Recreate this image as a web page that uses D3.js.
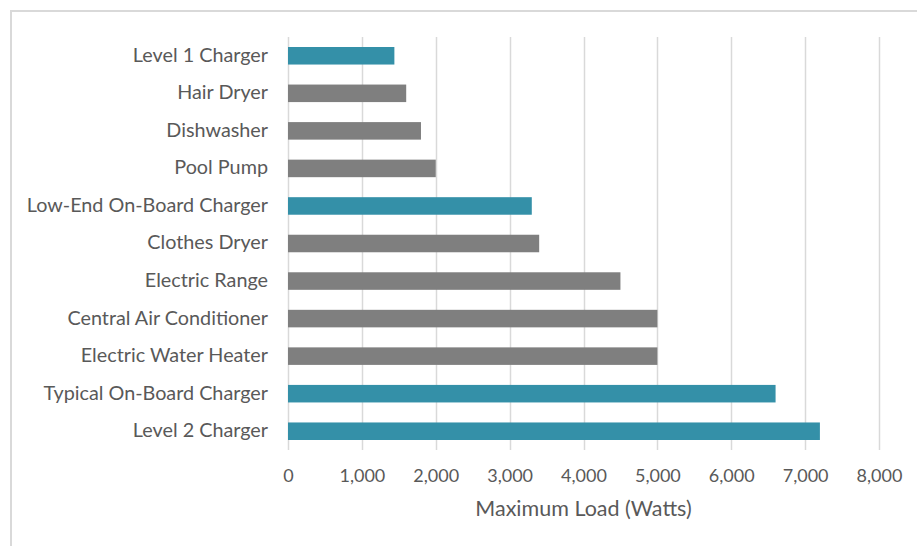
<!DOCTYPE html>
<html>
<head>
<meta charset="utf-8">
<script src="https://cdn.jsdelivr.net/npm/d3@7"></script>
<style>
  html, body { margin: 0; padding: 0; background: #fff; }
  svg { display: block; }
  text { font-family: Lato, "Open Sans", sans-serif; fill: #595959; }
</style>
</head>
<body>
<svg id="chart" width="917" height="546"></svg>
<script>
const categories = [
  "Level 1 Charger", "Hair Dryer", "Dishwasher", "Pool Pump",
  "Low-End On-Board Charger", "Clothes Dryer", "Electric Range",
  "Central Air Conditioner", "Electric Water Heater",
  "Typical On-Board Charger", "Level 2 Charger"
];
const values = [1440, 1600, 1800, 2000, 3300, 3400, 4500, 5000, 5000, 6600, 7200];
const isCharger = [true, false, false, false, true, false, false, false, false, true, true];
const xTicks = [0, 1000, 2000, 3000, 4000, 5000, 6000, 7000, 8000];
const xTitle = "Maximum Load (Watts)";

const svg = d3.select("#chart");
const W = 917, H = 546;
const m = { left: 288, right: 38, top: 37, bottom: 96 };

// frame
svg.append("path")
  .attr("d", `M11,${H} L11,11 L${W},11`)
  .attr("fill", "none").attr("stroke", "#d9d9d9").attr("stroke-width", 2);

const x = d3.scaleLinear().domain([0, 8000]).range([m.left, W - m.right]);
const y = d3.scaleBand().domain(categories).range([m.top, H - m.bottom]).paddingInner(0.533).paddingOuter(0.2665);

// gridlines
svg.append("g").selectAll("line").data(xTicks).join("line")
  .attr("x1", d => Math.round(x(d)) + 0.5).attr("x2", d => Math.round(x(d)) + 0.5)
  .attr("y1", m.top).attr("y2", H - m.bottom)
  .attr("stroke", "#d9d9d9").attr("stroke-width", 1.5);

// bars
svg.append("g").selectAll("rect").data(categories).join("rect")
  .attr("x", x(0))
  .attr("y", d => y(d))
  .attr("width", (d, i) => x(values[i]) - x(0))
  .attr("height", y.bandwidth())
  .attr("fill", (d, i) => isCharger[i] ? "#3490a8" : "#7f7f7f");

// x axis
const xAxis = d3.axisBottom(x).tickValues(xTicks).tickFormat(d3.format(",")).tickSize(0).tickPadding(0);
const gx = svg.append("g").attr("transform", `translate(0,${H - m.bottom})`).call(xAxis);
gx.select(".domain").remove();
gx.selectAll("text").attr("dy", null).attr("y", 32).style("font-size", "18px").style("font-family", "Lato, sans-serif").attr("fill", "#595959");

// y axis
const yAxis = d3.axisLeft(y).tickSize(0).tickPadding(20);
const gy = svg.append("g").attr("transform", `translate(${m.left},0)`).call(yAxis);
gy.select(".domain").remove();
gy.selectAll("text").style("font-size", "19.8px").style("font-family", "Lato, sans-serif").attr("fill", "#595959").attr("dy", "0.3em");

// x title
svg.append("text")
  .attr("x", (x(0) + x(8000)) / 2).attr("y", 516)
  .attr("text-anchor", "middle")
  .style("font-size", "21.5px")
  .text(xTitle);
</script>
</body>
</html>
